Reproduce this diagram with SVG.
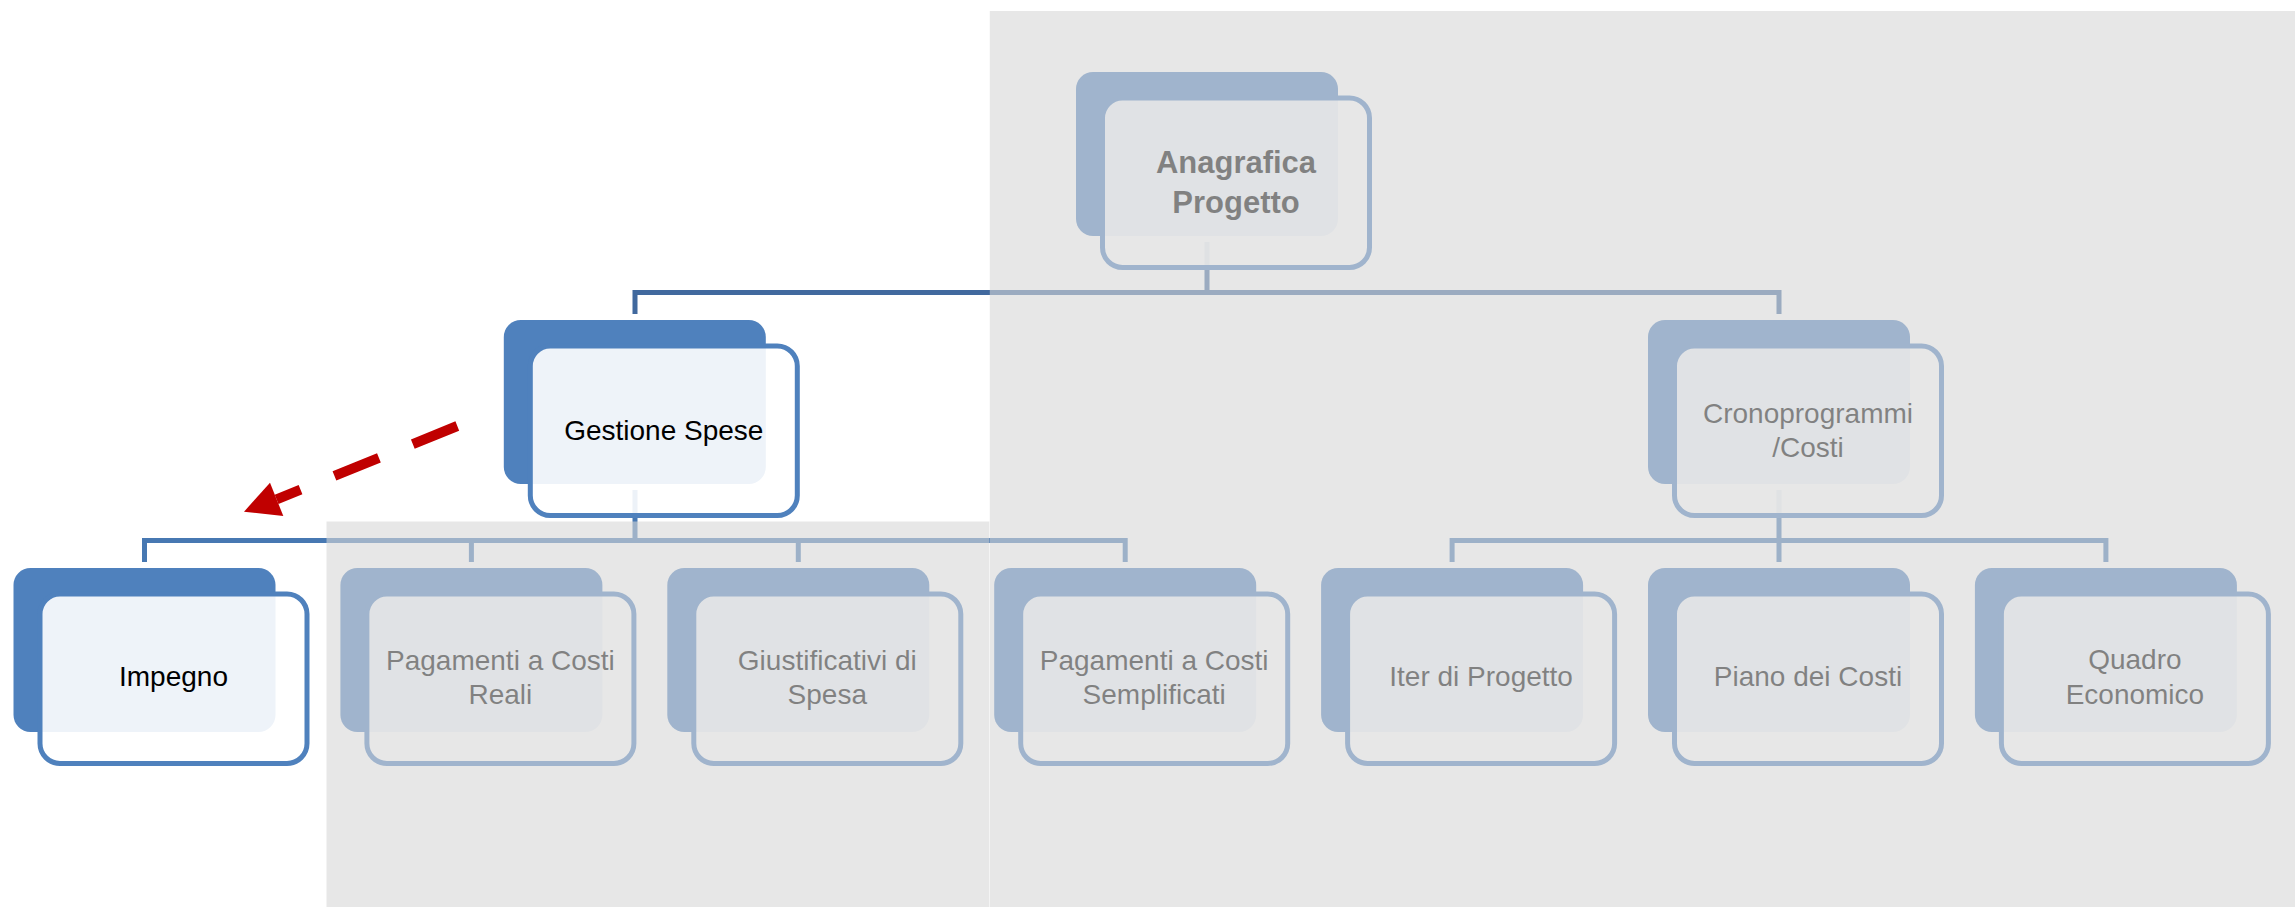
<svg xmlns="http://www.w3.org/2000/svg" width="2295" height="907" viewBox="0 0 2295 907">
<style>
.back{fill:#4f81bd}
.front{fill:#ffffff;fill-opacity:0.9;stroke:#4f81bd;stroke-width:5}
.lbl{font-family:"Liberation Sans",Arial,sans-serif;font-size:28px;fill:#000000;text-anchor:middle}
.bold{font-weight:bold;font-size:31px}
.c1{fill:none;stroke:#41699e;stroke-width:5}
.c2{fill:none;stroke:#4778b2;stroke-width:5}
.dim{fill:#d7d7d7;fill-opacity:0.6}
</style>
<rect width="2295" height="907" fill="#ffffff"/>
<g id="connectors">
<path class="c1" d="M635,314 V292.5 H1779 V314 M1207,242 V292.5"/>
<path class="c2" d="M635,490 V540.5 M144.5,562 V540.5 H1125.2 V562 M471.4,540.5 V562 M798.3,540.5 V562"/>
<path class="c2" d="M1779,490 V562 M1452.1,562 V540.5 H2105.9 V562"/>
</g>
<g id="node-anagrafica" transform="translate(1076,72)">
<rect class="back" width="262" height="164" rx="17"/>
<rect class="front" x="26.5" y="26" width="267" height="169.5" rx="20"/>
<text class="lbl bold" x="160" y="100.7">Anagrafica</text>
<text class="lbl bold" x="160" y="141.3">Progetto</text>
</g>
<g id="node-gestione" transform="translate(503.8,320)">
<rect class="back" width="262" height="164" rx="17"/>
<rect class="front" x="26.5" y="26" width="267" height="169.5" rx="20"/>
<text class="lbl" x="160" y="120">Gestione Spese</text>
</g>
<g id="node-crono" transform="translate(1648,320)">
<rect class="back" width="262" height="164" rx="17"/>
<rect class="front" x="26.5" y="26" width="267" height="169.5" rx="20"/>
<text class="lbl" x="160" y="102.5">Cronoprogrammi</text>
<text class="lbl" x="160" y="136.5">/Costi</text>
</g>
<g id="node-impegno" transform="translate(13.5,568)">
<rect class="back" width="262" height="164" rx="17"/>
<rect class="front" x="26.5" y="26" width="267" height="169.5" rx="20"/>
<text class="lbl" x="160" y="118">Impegno</text>
</g>
<g id="node-pag-reali" transform="translate(340.4,568)">
<rect class="back" width="262" height="164" rx="17"/>
<rect class="front" x="26.5" y="26" width="267" height="169.5" rx="20"/>
<text class="lbl" x="160" y="101.5">Pagamenti a Costi</text>
<text class="lbl" x="160" y="136">Reali</text>
</g>
<g id="node-giustificativi" transform="translate(667.3,568)">
<rect class="back" width="262" height="164" rx="17"/>
<rect class="front" x="26.5" y="26" width="267" height="169.5" rx="20"/>
<text class="lbl" x="160" y="101.5">Giustificativi di</text>
<text class="lbl" x="160" y="136">Spesa</text>
</g>
<g id="node-pag-sempl" transform="translate(994.2,568)">
<rect class="back" width="262" height="164" rx="17"/>
<rect class="front" x="26.5" y="26" width="267" height="169.5" rx="20"/>
<text class="lbl" x="160" y="101.5">Pagamenti a Costi</text>
<text class="lbl" x="160" y="136">Semplificati</text>
</g>
<g id="node-iter" transform="translate(1321.1,568)">
<rect class="back" width="262" height="164" rx="17"/>
<rect class="front" x="26.5" y="26" width="267" height="169.5" rx="20"/>
<text class="lbl" x="160" y="118">Iter di Progetto</text>
</g>
<g id="node-piano" transform="translate(1648,568)">
<rect class="back" width="262" height="164" rx="17"/>
<rect class="front" x="26.5" y="26" width="267" height="169.5" rx="20"/>
<text class="lbl" x="160" y="118">Piano dei Costi</text>
</g>
<g id="node-quadro" transform="translate(1974.9,568)">
<rect class="back" width="262" height="164" rx="17"/>
<rect class="front" x="26.5" y="26" width="267" height="169.5" rx="20"/>
<text class="lbl" x="160" y="101">Quadro</text>
<text class="lbl" x="160" y="136">Economico</text>
</g>
<g id="overlays">
<rect class="dim" x="989.8" y="11" width="1305.2" height="896"/>
<rect class="dim" x="326.5" y="521.5" width="662.8" height="385.5"/>
</g>
<g id="arrow">
<path d="M457.3,426 L276.6,499.4" fill="none" stroke="#c00000" stroke-width="10" stroke-dasharray="48 36.6"/>
<polygon points="244,511.7 270,482.7 283.3,516" fill="#c00000"/>
</g>
</svg>
